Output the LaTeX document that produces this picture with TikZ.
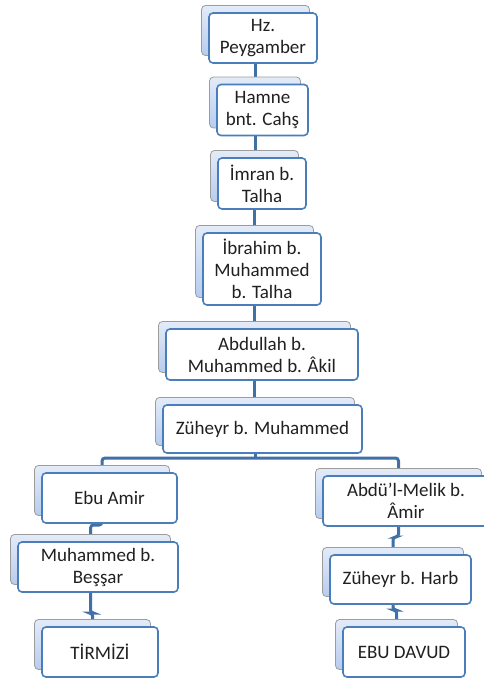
\documentclass[tikz,border=0pt]{standalone}
\usepackage{fontspec}
\setmainfont{Carlito}
\usetikzlibrary{backgrounds}
\definecolor{cardline}{HTML}{9C9C9C}
\definecolor{cardtop}{HTML}{E3EBF8}
\definecolor{cardbot}{HTML}{B7CCEF}
\definecolor{boxline}{HTML}{4A7EBB}
\definecolor{linkcol}{HTML}{416FA8}
\definecolor{txt}{HTML}{202020}
\newcommand\boxfont{\fontsize{19pt}{22pt}\selectfont}
\tikzset{
  card/.style={rectangle, rounded corners=4pt, draw=cardline, top color=cardtop, bottom color=cardbot, line width=0.8pt, inner sep=0pt},
  frontbox/.style={rectangle, rounded corners=4pt, draw=boxline, fill=white, line width=1.6pt, inner sep=0pt, align=center, font=\boxfont, text=txt},
  link/.style={draw=linkcol, line width=3pt, rounded corners=3pt},
}
% name, cx, cy, width, height, text
\newcommand\mkpair[6]{%
  \node[card, minimum width=#4pt, minimum height=#5pt] (b#1) at ({#2-7.5},{#3-7.5}) {};
  \node[frontbox, minimum width=#4pt, minimum height=#5pt] (n#1) at (#2,#3) {#6};
}
\begin{document}
\begin{tikzpicture}[x=1pt,y=-1pt]
\useasboundingbox (0,0) rectangle (484,680);
\mkpair{1}{263}{38}{108}{50}{Hz.\\Peygamber}
\mkpair{2}{262.5}{110}{91}{51}{Hamne\\bnt. Cahş}
\mkpair{3}{262}{183.5}{88}{51}{İmran b.\\Talha}
\mkpair{4}{262}{269}{118}{72}{İbrahim b.\\Muhammed\\b. Talha}
\mkpair{5}{262}{354.5}{192}{51}{Abdullah b.\\Muhammed b. Âkil}
\mkpair{6}{262.5}{429}{199}{48}{Züheyr b. Muhammed}
\mkpair{7}{109.5}{498}{135}{50}{Ebu Amir}
\mkpair{8}{98}{567}{160}{50}{Muhammed b.\\Beşşar}
\mkpair{9}{100}{652}{116}{50}{TİRMİZİ}
\mkpair{10}{406}{501}{166}{50}{Abdü'l-Melik b.\\Âmir}
\mkpair{11}{400.5}{579.5}{141}{49}{Züheyr b. Harb}
\mkpair{12}{404}{652}{122}{50}{EBU DAVUD}
\coordinate (j1) at (0,458);
\coordinate (j2) at (0,525);
\coordinate (j3) at (0,613);
\coordinate (j4) at (0,537);
\coordinate (j5) at (0,610);
\begin{pgfonlayer}{background}
\draw[link] (b1.center) -- (b1.center |- b2.center);
\draw[link] (b2.center) -- (b2.center |- b3.center);
\draw[link] (b3.center) -- (b3.center |- b4.center);
\draw[link] (b4.center) -- (b4.center |- b5.center);
\draw[link] (b5.center) -- (b5.center |- b6.center);
\draw[link] (b6.center) -- (b6.center |- j1);
\draw[link] (b7.center) |- (j1 -| b10.center) -- (b10.center);
\draw[link] (b7.center) -- (b7.center |- j2) -| (b8.center);
\draw[link] (b8.center) -- (b8.center |- j3) -| (b9.center);
\draw[link] (b10.center) -- (b10.center |- j4) -| (b11.center);
\draw[link] (b11.center) -- (b11.center |- j5) -| (b12.center);
\end{pgfonlayer}
\end{tikzpicture}
\end{document}
